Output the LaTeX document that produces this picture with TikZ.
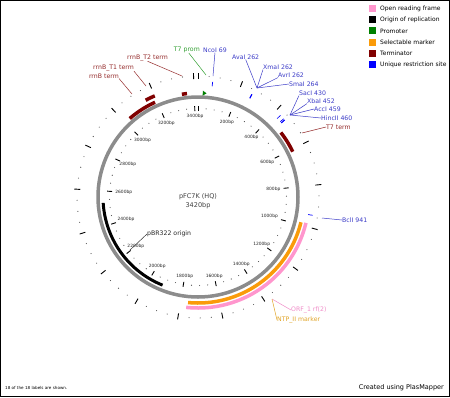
\documentclass[tikz,border=0pt]{standalone}
\usepackage{fontspec}
\setmainfont{DejaVu Sans}
\definecolor{orfpink}{RGB}{255,150,205}
\definecolor{selorange}{RGB}{250,155,10}
\definecolor{termred}{RGB}{128,0,0}
\definecolor{promgreen}{RGB}{0,128,0}
\definecolor{siteblue}{RGB}{0,0,255}
\definecolor{labblue}{RGB}{60,60,200}
\definecolor{labred}{RGB}{150,45,45}
\definecolor{labgreen}{RGB}{50,160,50}
\definecolor{laborange}{RGB}{225,165,40}
\definecolor{labpink}{RGB}{240,140,200}
\definecolor{backbone}{RGB}{140,140,140}
\tikzset{
  lbl/.style={font=\fontsize{6.2}{7}\selectfont, inner sep=0pt},
  ticklbl/.style={font=\fontsize{4.4}{5}\selectfont, inner sep=0pt, text=black!85},
  leader/.style={line width=0.5pt},
  feat/.style={line width=3.5pt},
  majtick/.style={line width=0.9pt, black},
  legbox/.style={minimum size=7pt, inner sep=0pt},
  legtxt/.style={font=\fontsize{6}{7}\selectfont, inner sep=0pt, anchor=west},
}
\begin{document}
\begin{tikzpicture}[x=1pt,y=-1pt]
\useasboundingbox (0,0) rectangle (450,397);
\fill[white] (0,0) rectangle (450,397);
\draw[line width=1pt] (0.5,0.5) rectangle (449.5,396.5);

\begin{scope}[shift={(198,197)}]
  % backbone
  \draw[backbone, line width=3.5pt] (0,0) circle [radius=100pt];
  % rulers
  \foreach \k in {0,...,17}{
    \pgfmathsetmacro\th{\k*21.0526316-90}
    \draw[majtick] (\th:86) -- (\th:91);
    \draw[majtick] (\th:118) -- (\th:124);
    \foreach \j in {1,2,3}{
      \pgfmathtruncatemacro\bb{\k*200+\j*50}
      \ifnum\bb<3420
        \pgfmathsetmacro\tm{\bb*0.10526316-90}
        \fill[black!70] (\tm:88.5) circle [radius=0.55pt];
        \fill[black!70] (\tm:121) circle [radius=0.55pt];
      \fi
    }
  }
  \foreach \k in {1,...,17}{
    \pgfmathsetmacro\th{\k*21.0526316-90}
    \pgfmathtruncatemacro\an{-\th}
    \pgfmathtruncatemacro\bp{\k*200}
    \node[ticklbl, anchor=\an] (tl\k) at (\th:83) {\bp bp};
  }
  % features
  \draw[feat, black, line width=3pt] plot[domain={1918*0.10526316-90}:{2531*0.10526316-90}, samples=60] (\x:95);
  \draw[feat, selorange] plot[domain={986*0.10526316-90}:{1761*0.10526316-90}, samples=80] (\x:106);
  \draw[feat, orfpink] plot[domain={983*0.10526316-90}:{1768*0.10526316-90}, samples=80] (\x:111);
  \draw[feat, termred] plot[domain={495*0.10526316-90}:{612*0.10526316-90}, samples=20] (\x:105);
  \draw[feat, termred] plot[domain={3335*0.10526316-90}:{3362*0.10526316-90}, samples=5] (\x:104);
  \draw[feat, termred] plot[domain={3030*0.10526316-90}:{3188*0.10526316-90}, samples=20] (\x:104);
  \draw[feat, termred] plot[domain={3150*0.10526316-90}:{3200*0.10526316-90}, samples=10] (\x:110);
  \fill[promgreen] ({25*0.10526316-90}:101.5) -- ({25*0.10526316-90}:106.5) -- ({45*0.10526316-90}:104) -- cycle;
  % restriction sites
  \foreach \b in {69,262,264,430,452,459,460,941}{
    \draw[siteblue, line width=0.7pt] ({\b*0.10526316-90}:111.5) -- ({\b*0.10526316-90}:116);
  }
  % centre
  \node[font=\fontsize{6.5}{9}\selectfont, text=black!75, align=center] (title) at (0,4) {pFC7K (HQ)\\3420bp};
\end{scope}

% leader end points
\coordinate (t7promP) at (206,75);
\coordinate (ncoiP) at (213,76);
\coordinate (rrnbttwoP) at (182,76);
\coordinate (rrnbtoneP) at (146,86);
\coordinate (rrnbP) at (132,94);
\coordinate (siteA) at (257,88);
\coordinate (siteB) at (290,115);
\coordinate (t7termP) at (302,133);
\coordinate (bcliP) at (322,218);
\coordinate (orfP) at (272,299);
\coordinate (oriP) at (130,250);

% labels
\node[lbl, text=labgreen, anchor=east] (t7prom) at (200,50) {T7 prom};
\node[lbl, text=labblue, anchor=west] (ncoi) at (203,50) {NcoI 69};
\node[lbl, text=labblue, anchor=west] (avai) at (232,57) {AvaI 262};
\node[lbl, text=labblue, anchor=west] (xmai) at (263,67) {XmaI 262};
\node[lbl, text=labblue, anchor=west] (avri) at (278,75) {AvrI 262};
\node[lbl, text=labblue, anchor=west] (smai) at (289,84) {SmaI 264};
\node[lbl, text=labblue, anchor=west] (saci) at (299,93) {SacI 430};
\node[lbl, text=labblue, anchor=west] (xbai) at (307,101) {XbaI 452};
\node[lbl, text=labblue, anchor=west] (acci) at (314,109) {AccI 459};
\node[lbl, text=labblue, anchor=west] (hincii) at (321,118) {HincII 460};
\node[lbl, text=labred, anchor=west] (t7term) at (326,127) {T7 term};
\node[lbl, text=labblue, anchor=west] (bcli) at (342,220) {BclI 941};
\node[lbl, text=labpink, anchor=west] (orf) at (291,310) {ORF\_1 rf(2)};
\node[lbl, text=laborange, anchor=west] (nptii) at (277,320) {NTP\_II marker};
\node[lbl, text=black!85, anchor=west] (ori) at (147,234) {pBR322 origin};
\node[lbl, text=labred, anchor=east] (rrnbttwo) at (168,58) {rrnB\_T2 term};
\node[lbl, text=labred, anchor=east] (rrnbtone) at (134,68) {rrnB\_T1 term};
\node[lbl, text=labred, anchor=east] (rrnb) at (119,76) {rrnB term};

% leaders
\draw[leader, labgreen] ([xshift=2pt]t7prom.south) -- (t7promP);
\draw[leader, labblue] (ncoi.south) -- (ncoiP);
\draw[leader, labblue] (avai.south) -- (siteA);
\draw[leader, labblue] (xmai.south west) -- (siteA);
\draw[leader, labblue] (avri.south west) -- (siteA);
\draw[leader, labblue] (smai.west) -- (siteA);
\draw[leader, labblue] (saci.south west) -- (siteB);
\draw[leader, labblue] (xbai.south west) -- (siteB);
\draw[leader, labblue] (acci.west) -- (siteB);
\draw[leader, labblue] (hincii.west) -- (siteB);
\draw[leader, labred] (t7term.west) -- (t7termP);
\draw[leader, labblue] (bcli.west) -- (bcliP);
\draw[leader, labpink] (orf.west) -- (orfP);
\draw[leader, laborange] (nptii.west) -- (orfP);
\draw[leader, black!80] (ori.west) -- (oriP);
\draw[leader, labred] (rrnbttwo.south) -- (rrnbttwoP);
\draw[leader, labred] (rrnbtone.south east) -- (rrnbtoneP);
\draw[leader, labred] (rrnb.south east) -- (rrnbP);

% legend
\node[legbox, fill=orfpink] (lg1) at (372,8.5) {};
\node[legbox, fill=black] (lg2) at (372,19.7) {};
\node[legbox, fill=promgreen] (lg3) at (372,30.9) {};
\node[legbox, fill=selorange] (lg4) at (372,42.1) {};
\node[legbox, fill=termred] (lg5) at (372,53.3) {};
\node[legbox, fill=siteblue] (lg6) at (372,64.5) {};
\node[legtxt] (lt1) at (380,8.5) {Open reading frame};
\node[legtxt] (lt2) at (380,19.7) {Origin of replication};
\node[legtxt] (lt3) at (380,30.9) {Promoter};
\node[legtxt] (lt4) at (380,42.1) {Selectable marker};
\node[legtxt] (lt5) at (380,53.3) {Terminator};
\node[legtxt] (lt6) at (380,64.5) {Unique restriction site};

% footer
\node[font=\fontsize{4.1}{5}\selectfont, inner sep=0pt, anchor=west] (shown) at (5,388) {18 of the 18 labels are shown.};
\node[font=\fontsize{6.5}{7}\selectfont, inner sep=0pt, anchor=east] (credit) at (444,388) {Created using PlasMapper};
\end{tikzpicture}
\end{document}
